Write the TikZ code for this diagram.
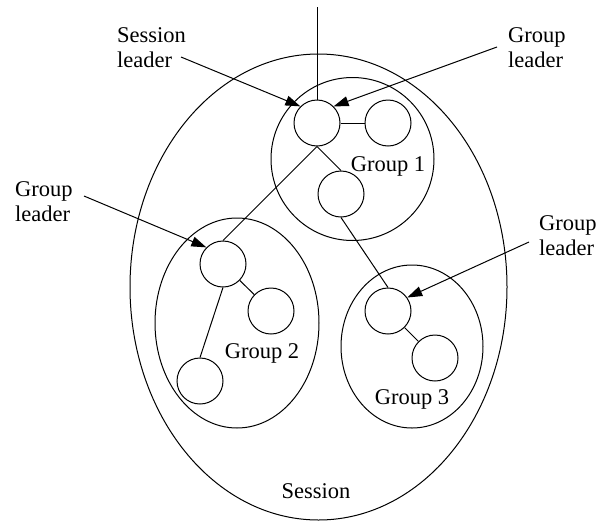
\documentclass[tikz,border=0pt]{standalone}
\usepackage{fontspec}
\setmainfont{Liberation Serif}
\usetikzlibrary{shapes.geometric,arrows.meta}
\begin{document}
\begin{tikzpicture}[x=1pt,y=-1pt,
  member/.style={circle,draw,line width=1pt,minimum size=46pt,inner sep=0pt},
  group/.style={ellipse,draw,line width=1pt,inner sep=0pt},
  lbl/.style={font=\fontsize{22.5}{25}\selectfont,inner sep=0pt},
  link/.style={line width=1pt},
  ptr/.style={line width=1pt,-{Triangle[length=15pt,width=10pt]}}]
\useasboundingbox (0,0) rectangle (608,520);
\node[group,minimum width=377pt,minimum height=466pt] (sess) at (318.5,287) {};
\node[group,minimum width=163pt,minimum height=163pt] (g1) at (352.5,159) {};
\node[group,minimum width=164pt,minimum height=210pt] (g2) at (237,323) {};
\node[group,minimum width=142pt,minimum height=163pt] (g3) at (412,346.5) {};
\node[member] (sl) at (317,123) {};
\node[member] (a1) at (388,123) {};
\node[member] (a2) at (341,194) {};
\node[member] (l2) at (223,264) {};
\node[member] (b1) at (271,311) {};
\node[member] (b2) at (200,381) {};
\node[member] (l3) at (388,311) {};
\node[member] (c1) at (435,358) {};
\node[lbl] (g1t) at (388,166) {Group 1};
\node[lbl] (g2t) at (262,353) {Group 2};
\node[lbl] (g3t) at (412,399) {Group 3};
\node[lbl] (st) at (316,491) {Session};
\node[lbl,align=left,anchor=west] (t1) at (117,47.5) {Session\\leader};
\node[lbl,align=left,anchor=west] (t2) at (508,47.5) {Group\\leader};
\node[lbl,align=left,anchor=west] (t3) at (15,202) {Group\\leader};
\node[lbl,align=left,anchor=west] (t4) at (539,235.5) {Group\\leader};
\coordinate (top) at (317,7);
\coordinate (p1) at (181,57);
\coordinate (p2) at (497,47);
\coordinate (p3) at (84,196);
\coordinate (p4) at (529,242);
\draw[link] (top) -- (sl.north);
\draw[link] (sl) -- (a1);
\draw[link] (sl.south) -- (a2.north);
\draw[link] (sl.south) -- (l2.north);
\draw[link] (a2.south) -- (l3.north);
\draw[link] (l2) -- (b1);
\draw[link] (l2.south) -- (b2.north);
\draw[link] (l3) -- (c1);
\draw[ptr] (p1) -- (sl.north west);
\draw[ptr] (p2) -- (sl.north east);
\draw[ptr] (p3) -- (l2.north west);
\draw[ptr] (p4) -- (l3.35);
\end{tikzpicture}
\end{document}
